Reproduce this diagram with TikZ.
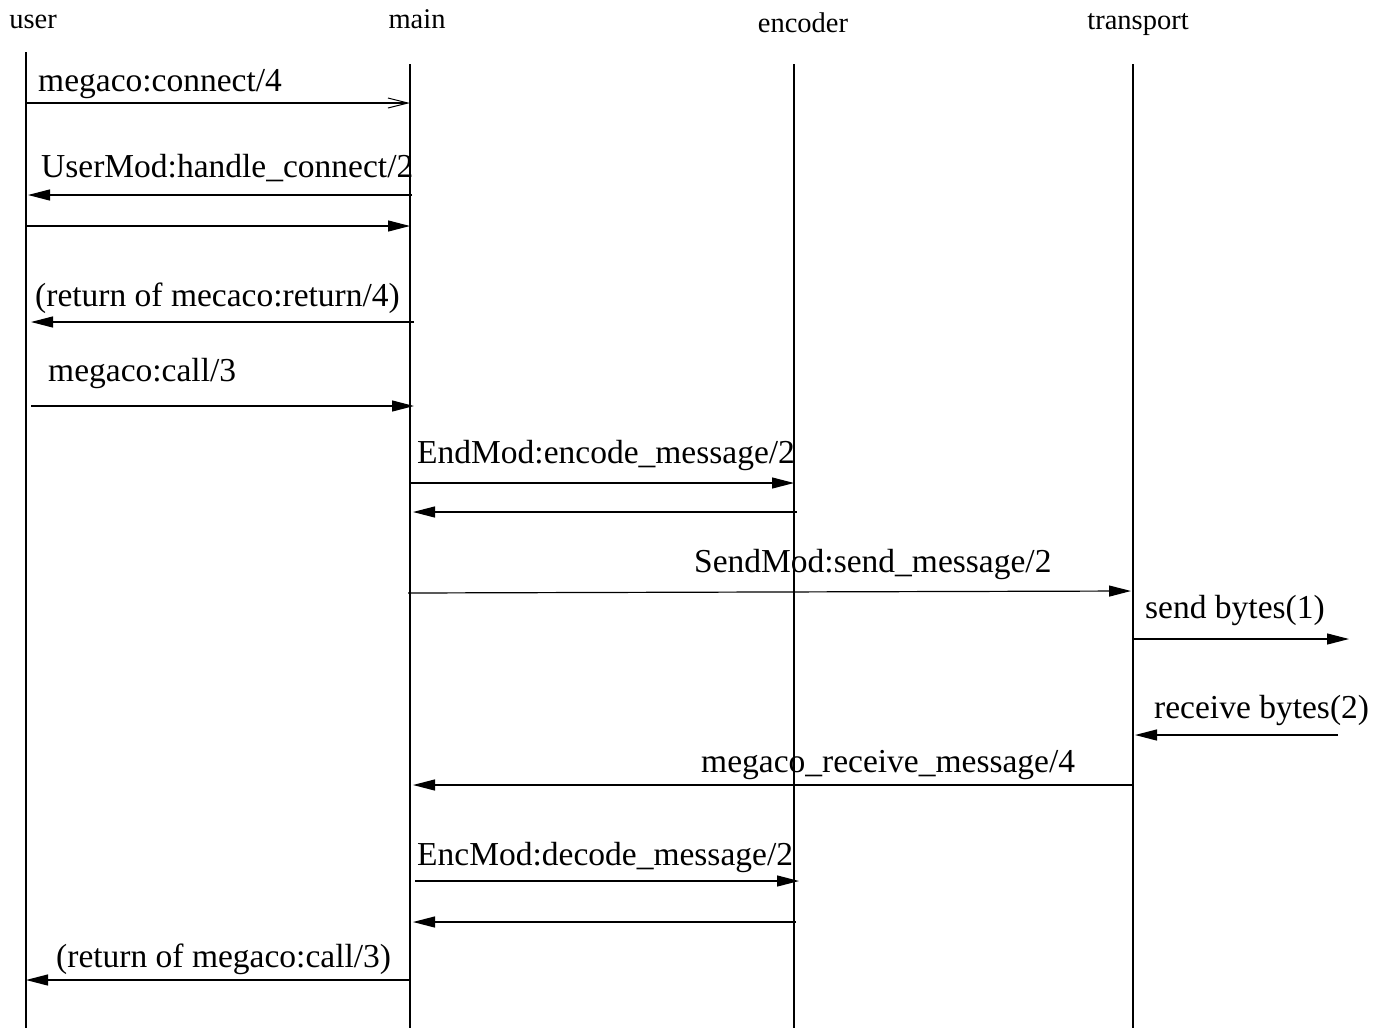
\documentclass[tikz,border=0pt]{standalone}
\usepackage{fontspec}
\setmainfont{Liberation Serif}
\usetikzlibrary{arrows.meta}
\begin{document}
\begin{tikzpicture}[x=1pt,y=-1pt,
  head/.style={font=\fontsize{28.5}{30}\selectfont, inner sep=0pt, anchor=base},
  lbl/.style={font=\fontsize{33.5}{35}\selectfont, inner sep=0pt, anchor=base west},
  life/.style={line width=1.2pt},
  msg/.style={line width=1.2pt, -{Triangle[length=22pt,width=11pt]}},
  omsg/.style={line width=1.2pt, -{Straight Barb[length=20pt,width=10pt,line width=1pt]}}]
\useasboundingbox (0,0) rectangle (1389,1028);
% lifeline heads
\node[head] (huser) at (33,28) {user};
\node[head] (hmain) at (417,28) {main};
\node[head] (henc) at (803,32) {encoder};
\node[head] (htr) at (1138,29) {transport};
% lifelines
\coordinate (uT) at (26,52);   \coordinate (uB) at (26,1028);
\coordinate (mT) at (410,64);  \coordinate (mB) at (410,1028);
\coordinate (eT) at (794,64);  \coordinate (eB) at (794,1028);
\coordinate (tT) at (1133,64); \coordinate (tB) at (1133,1028);
\draw[life] (uT) -- (uB);
\draw[life] (mT) -- (mB);
\draw[life] (eT) -- (eB);
\draw[life] (tT) -- (tB);
% messages
\coordinate (a1) at (26,103);  \coordinate (b1) at (410,103);
\draw[omsg] (a1) -- (b1);
\node[lbl] (l1) at (38,91) {megaco:connect/4};

\coordinate (a2) at (412,195); \coordinate (b2) at (28,195);
\draw[msg] (a2) -- (b2);
\node[lbl] (l2) at (41,177) {UserMod:handle\_connect/2};

\coordinate (a3) at (26,226);  \coordinate (b3) at (410,226);
\draw[msg] (a3) -- (b3);

\coordinate (a4) at (414,322); \coordinate (b4) at (31,322);
\draw[msg] (a4) -- (b4);
\node[lbl] (l4) at (35,306) {(return of mecaco:return/4)};

\coordinate (a5) at (31,406);  \coordinate (b5) at (414,406);
\draw[msg] (a5) -- (b5);
\node[lbl] (l5) at (48,381) {megaco:call/3};

\coordinate (a6) at (410,483); \coordinate (b6) at (794,483);
\draw[msg] (a6) -- (b6);
\node[lbl] (l6) at (417,463) {EndMod:encode\_message/2};

\coordinate (a7) at (797,512); \coordinate (b7) at (413,512);
\draw[msg] (a7) -- (b7);

\coordinate (a8) at (408,593); \coordinate (b8) at (1131,591);
\draw[msg] (a8) -- (b8);
\node[lbl] (l8) at (694,572) {SendMod:send\_message/2};

\coordinate (a9) at (1133,639); \coordinate (b9) at (1349,639);
\draw[msg] (a9) -- (b9);
\node[lbl] (l9) at (1145,618) {send bytes(1)};

\coordinate (a10) at (1338,735); \coordinate (b10) at (1135,735);
\draw[msg] (a10) -- (b10);
\node[lbl] (l10) at (1154,718) {receive bytes(2)};

\coordinate (a11) at (1133,785); \coordinate (b11) at (413,785);
\draw[msg] (a11) -- (b11);
\node[lbl] (l11) at (701,772) {megaco\_receive\_message/4};

\coordinate (a12) at (415,881); \coordinate (b12) at (799,881);
\draw[msg] (a12) -- (b12);
\node[lbl] (l12) at (417,865) {EncMod:decode\_message/2};

\coordinate (a13) at (796,922); \coordinate (b13) at (413,922);
\draw[msg] (a13) -- (b13);

\coordinate (a14) at (410,980); \coordinate (b14) at (26,980);
\draw[msg] (a14) -- (b14);
\node[lbl] (l14) at (56,967) {(return of megaco:call/3)};
\end{tikzpicture}
\end{document}
